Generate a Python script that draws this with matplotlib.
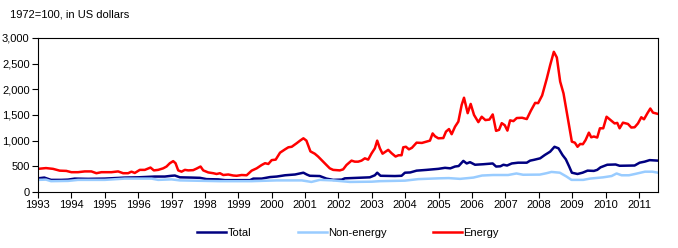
import matplotlib.pyplot as plt

# commodity price indexes, 1972=100
energy_dates = [1993.0, 1993.24, 1993.45, 1993.65, 1993.85, 1994.0, 1994.2, 1994.4, 1994.6, 1994.75,
                1994.9, 1995.2, 1995.4, 1995.55, 1995.7, 1995.8, 1995.9, 1996.05, 1996.2, 1996.37,
                1996.47, 1996.6, 1996.75, 1996.85, 1996.95, 1997.05, 1997.12, 1997.2, 1997.3, 1997.4,
                1997.5, 1997.65, 1997.75, 1997.87, 1997.95, 1998.1, 1998.25, 1998.35, 1998.45, 1998.55,
                1998.7, 1998.85, 1998.95, 1999.1, 1999.25, 1999.4, 1999.55, 1999.7, 1999.8, 1999.9,
                2000.0, 2000.12, 2000.25, 2000.4, 2000.5, 2000.6, 2000.75, 2000.85, 2000.95, 2001.04,
                2001.16, 2001.29, 2001.39, 2001.54, 2001.64, 2001.74, 2001.84, 2002.04, 2002.14, 2002.24,
                2002.39, 2002.49, 2002.59, 2002.69, 2002.79, 2002.89, 2002.99, 2003.09, 2003.16, 2003.24,
                2003.32, 2003.4, 2003.49, 2003.59, 2003.71, 2003.8, 2003.89, 2003.94, 2004.02, 2004.11,
                2004.2, 2004.34, 2004.5, 2004.64, 2004.74, 2004.82, 2004.89, 2004.99, 2005.14, 2005.22,
                2005.31, 2005.39, 2005.49, 2005.59, 2005.69, 2005.76, 2005.87, 2005.96, 2006.06, 2006.19,
                2006.29, 2006.4, 2006.52, 2006.62, 2006.72, 2006.81, 2006.89, 2006.98, 2007.06, 2007.14,
                2007.24, 2007.34, 2007.5, 2007.64, 2007.76, 2007.89, 2007.98, 2008.1, 2008.24, 2008.34,
                2008.45, 2008.54, 2008.64, 2008.74, 2008.86, 2008.99, 2009.08, 2009.16, 2009.24, 2009.32,
                2009.4, 2009.5, 2009.57, 2009.65, 2009.75, 2009.83, 2009.93, 2010.03, 2010.15, 2010.27,
                2010.35, 2010.42, 2010.52, 2010.67, 2010.77, 2010.87, 2010.97, 2011.07, 2011.15, 2011.25,
                2011.34, 2011.42, 2011.57]
energy = [450, 465, 450, 415, 410, 385, 385, 400, 400, 365,
          385, 385, 400, 365, 365, 395, 370, 430, 430, 475,
          420, 430, 460, 495, 560, 600, 560, 420, 395, 430,
          420, 425, 455, 495, 420, 380, 365, 350, 365, 330,
          340, 320, 315, 330, 325, 415, 460, 525, 560, 545,
          620, 630, 765, 830, 870, 880, 950, 1000, 1045, 1000,
          790, 745, 690, 590, 525, 460, 430, 420, 440, 525,
          610, 590, 590, 610, 655, 630, 750, 850, 1000, 850,
          745, 780, 820, 755, 690, 715, 715, 870, 880, 830,
          860, 960, 955, 980, 1000, 1140, 1085, 1045, 1050, 1175,
          1225, 1125, 1270, 1370, 1695, 1835, 1535, 1715, 1500, 1360,
          1465, 1400, 1410, 1510, 1190, 1210, 1340, 1300, 1195, 1395,
          1380, 1440, 1445, 1420, 1580, 1735, 1730, 1880, 2210, 2470,
          2730, 2620, 2150, 1920, 1470, 980, 960, 880, 935, 930,
          1010, 1155, 1065, 1080, 1060, 1240, 1240, 1465, 1400, 1335,
          1345, 1240, 1350, 1325, 1255, 1260, 1335, 1455, 1415, 1530,
          1625, 1545, 1520]

total_dates = [1993.0, 1993.19, 1993.39, 1993.7, 1993.9, 1994.1, 1994.5, 1995.0, 1995.6, 1996.0,
               1996.5, 1996.8, 1997.0, 1997.1, 1997.25, 1997.6, 1997.85, 1998.05, 1998.4, 1998.6,
               1999.35, 1999.45, 1999.7, 1999.95, 2000.15, 2000.4, 2000.7, 2000.95, 2001.05, 2001.14,
               2001.44, 2001.64, 2001.84, 2002.1, 2002.19, 2002.94, 2003.09, 2003.16, 2003.26, 2003.69,
               2003.89, 2003.99, 2004.15, 2004.34, 2004.64, 2004.99, 2005.19, 2005.35, 2005.49, 2005.6,
               2005.74, 2005.84, 2005.94, 2006.09, 2006.34, 2006.62, 2006.72, 2006.85, 2006.94, 2007.05,
               2007.19, 2007.38, 2007.64, 2007.74, 2007.85, 2008.04, 2008.18, 2008.34, 2008.47, 2008.59,
               2008.71, 2008.81, 2008.91, 2008.99, 2009.16, 2009.31, 2009.46, 2009.65, 2009.75, 2009.85,
               2010.05, 2010.3, 2010.42, 2010.87, 2011.02, 2011.17, 2011.32, 2011.57]
total = [265, 280, 235, 235, 240, 260, 255, 260, 280, 285,
         300, 300, 315, 320, 285, 280, 275, 250, 245, 230,
         230, 260, 260, 290, 300, 325, 340, 375, 340, 315,
         310, 260, 235, 240, 265, 285, 325, 375, 315, 310,
         315, 375, 380, 415, 430, 450, 470, 460, 495, 505,
         605, 555, 580, 530, 540, 555, 495, 500, 530, 515,
         555, 570, 570, 610, 625, 655, 720, 785, 880, 850,
         720, 635, 495, 375, 350, 375, 415, 410, 430, 480,
         530, 535, 510, 515, 570, 590, 620, 610]

nonenergy_dates = [1993.0, 1993.24, 1993.39, 1993.9, 1994.2, 1995.0, 1995.6, 1996.4, 1996.6, 1997.0,
                   1997.25, 1998.45, 1999.4, 2000.15, 2000.9, 2001.19, 2001.44, 2001.84, 2002.34, 2003.0,
                   2003.24, 2003.99, 2004.39, 2004.99, 2005.3, 2005.64, 2006.04, 2006.3, 2006.63, 2007.08,
                   2007.33, 2007.53, 2008.03, 2008.23, 2008.38, 2008.63, 2008.83, 2008.98, 2009.33, 2009.53,
                   2009.93, 2010.18, 2010.33, 2010.48, 2010.7, 2010.88, 2011.18, 2011.4, 2011.57]
nonenergy = [235, 240, 210, 215, 235, 235, 260, 260, 235, 245,
             225, 210, 210, 225, 225, 195, 235, 225, 195, 200,
             210, 220, 250, 265, 270, 255, 280, 320, 330, 330,
             360, 335, 338, 365, 390, 375, 300, 235, 235, 260,
             285, 310, 360, 325, 325, 350, 395, 395, 375]

years = list(range(1993, 2012))
yticks = [0, 500, 1000, 1500, 2000, 2500, 3000]

plt.rcParams['font.family'] = ['Liberation Sans', 'DejaVu Sans']
plt.rcParams['font.size'] = 8

fig = plt.figure(figsize=(6.78, 2.48), dpi=100)
ax = fig.add_axes([0.056, 0.226, 0.9145, 0.621])

ax.plot(total_dates, total, color='#000080', lw=1.8, label='Total')
ax.plot(nonenergy_dates, nonenergy, color='#99ccff', lw=1.8, label='Non-energy')
ax.plot(energy_dates, energy, color='#ff0000', lw=1.8, label='Energy')

ax.set_xlim(1993, 2011.57)
ax.set_ylim(0, 3000)
ax.set_xticks(years)
ax.set_xticklabels([str(y) for y in years])
ax.set_yticks(yticks)
ax.set_yticklabels(['{:,}'.format(v) for v in yticks])
ax.tick_params(direction='out', length=4, width=0.8, pad=2)
for s in ax.spines.values():
    s.set_linewidth(0.8)

fig.text(0.015, 0.94, '1972=100, in US dollars', fontsize=8, va='center')

ax.legend(loc='upper center', bbox_to_anchor=(0.5, -0.17), ncol=3, frameon=False,
          handlelength=2.6, handletextpad=0.1, columnspacing=4.2)

fig.savefig('out.png', dpi=100)
